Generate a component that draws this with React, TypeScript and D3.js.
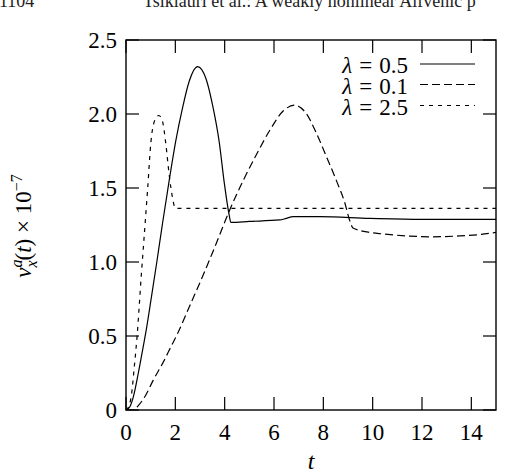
import React from "react";
import * as d3 from "d3";

// λ = 0.5 (solid)
const tA = [0, 0.15, 0.3, 0.5, 0.7, 0.84, 1.0, 1.24, 1.48, 1.75, 2.02, 2.29, 2.56, 2.9, 3.24, 3.51, 3.78, 3.98, 4.18, 4.25, 5.0, 6.23, 6.5, 6.77, 7.85, 9.88, 12.0, 15];
const vA = [0, 0.02, 0.09, 0.25, 0.43, 0.56, 0.73, 0.99, 1.26, 1.55, 1.82, 2.04, 2.22, 2.32, 2.24, 2.06, 1.81, 1.54, 1.32, 1.268, 1.274, 1.284, 1.295, 1.306, 1.306, 1.295, 1.288, 1.288];

// λ = 0.1 (long dash)
const tB = [0, 0.3, 0.5, 0.8, 1.1, 1.5, 1.8, 2.1, 2.6, 3.15, 3.67, 4.2, 4.75, 5.3, 5.83, 6.37, 6.84, 7.32, 7.72, 8.13, 8.53, 8.87, 9.07, 9.2, 9.88, 10.4, 11.5, 12.4, 13.5, 14.3, 15];
const vB = [0, 0, 0.03, 0.1, 0.2, 0.32, 0.42, 0.52, 0.71, 0.92, 1.13, 1.35, 1.55, 1.73, 1.89, 2.02, 2.06, 2.0, 1.87, 1.71, 1.55, 1.4, 1.28, 1.23, 1.2, 1.19, 1.175, 1.17, 1.176, 1.185, 1.2];

// λ = 2.5 (short dash)
const tC = [0, 0.1, 0.22, 0.33, 0.45, 0.62, 0.74, 0.88, 1.01, 1.15, 1.33, 1.48, 1.62, 1.75, 1.89, 2.0, 4.0, 8.0, 15];
const vC = [0, 0.02, 0.1, 0.28, 0.5, 0.91, 1.18, 1.5, 1.81, 1.95, 1.99, 1.95, 1.79, 1.59, 1.43, 1.363, 1.363, 1.363, 1.363];

const seriesLabels = ["0.5", "0.1", "2.5"];
const xTicks = [0, 2, 4, 6, 8, 10, 12, 14];
const xTickLabels = ["0", "2", "4", "6", "8", "10", "12", "14"];
const yTicks = [0, 0.5, 1.0, 1.5, 2.0, 2.5];
const yTickLabels = ["0", "0.5", "1.0", "1.5", "2.0", "2.5"];

const W = 514;
const H = 474;
const L = 126, R = 496, T = 40, B = 410;
const FONT = "'Liberation Serif', 'DejaVu Serif', serif";

export default function App() {
  const x = d3.scaleLinear().domain([0, 15]).range([L, R]);
  const y = d3.scaleLinear().domain([0, 2.5]).range([B, T]);
  const line = d3
    .line<[number, number]>()
    .x((d) => x(d[0]))
    .y((d) => y(d[1]))
    .curve(d3.curveMonotoneX);

  const series = [
    { t: tA, v: vA, dash: undefined as string | undefined },
    { t: tB, v: vB, dash: "8,4" },
    { t: tC, v: vC, dash: "4,5" },
  ];

  const tickLen = 13;
  const legendY = [64, 84.5, 105.5];
  const ts = { fontFamily: FONT };

  return (
    <svg
      width={W}
      height={H}
      viewBox={`0 0 ${W} ${H}`}
      style={{ position: "absolute", left: 0, top: 0, display: "block", background: "#fff", fontFamily: FONT }}
    >
      <rect x={0} y={0} width={W} height={H} fill="#fff" />
      {/* page header (cut) */}
      <text x={-1} y={7} fontSize={18} fill="#222" style={ts}>1104</text>
      <text x={143} y={7} fontSize={18} fill="#222" style={ts}>Tsiklauri et al.: A weakly nonlinear Alfvénic p</text>

      <defs>
        <clipPath id="plotclip">
          <rect x={L} y={T} width={R - L} height={B - T} />
        </clipPath>
      </defs>

      {/* ticks */}
      {xTicks.map((t, i) => (
        <g key={"xt" + i}>
          <line x1={x(t)} x2={x(t)} y1={B} y2={B - tickLen} stroke="#000" strokeWidth={1.2} />
          <line x1={x(t)} x2={x(t)} y1={T} y2={T + tickLen} stroke="#000" strokeWidth={1.2} />
          <text x={x(t)} y={440} fontSize={23} textAnchor="middle" fill="#000" style={ts}>
            {xTickLabels[i]}
          </text>
        </g>
      ))}
      {yTicks.map((v, i) => (
        <g key={"yt" + i}>
          <line x1={L} x2={L + tickLen} y1={y(v)} y2={y(v)} stroke="#000" strokeWidth={1.2} />
          <line x1={R} x2={R - tickLen} y1={y(v)} y2={y(v)} stroke="#000" strokeWidth={1.2} />
          <text x={117} y={y(v) + 7.5} fontSize={23} textAnchor="end" fill="#000" style={ts}>
            {yTickLabels[i]}
          </text>
        </g>
      ))}

      {/* curves */}
      <g clipPath="url(#plotclip)">
        {series.map((s, i) => (
          <path
            key={"s" + i}
            d={line(s.t.map((t, j) => [t, s.v[j]] as [number, number])) || ""}
            fill="none"
            stroke="#000"
            strokeWidth={1.2}
            strokeDasharray={s.dash}
          />
        ))}
      </g>

      {/* legend */}
      {seriesLabels.map((lab, i) => (
        <g key={"lg" + i}>
          <text x={408} y={legendY[i] + 9} fontSize={23} textAnchor="end" fill="#000" style={ts}>
            <tspan fontStyle="italic">λ</tspan>
            <tspan dx={7}>=</tspan>
            <tspan dx={7}>{lab}</tspan>
          </text>
          <line
            x1={420}
            x2={475}
            y1={legendY[i]}
            y2={legendY[i]}
            stroke="#000"
            strokeWidth={1.2}
            strokeDasharray={series[i].dash}
          />
        </g>
      ))}

      {/* frame */}
      <rect x={L} y={T} width={R - L} height={B - T} fill="none" stroke="#000" strokeWidth={1.4} />

      {/* axis labels */}
      <text x={311} y={469} fontSize={24} fontStyle="italic" textAnchor="middle" fill="#000" style={ts}>t</text>
      <text transform="translate(31,226) rotate(-90)" fontSize={23} textAnchor="middle" fill="#000" style={ts}>
        <tspan fontStyle="italic">v</tspan>
        <tspan fontStyle="italic" fontSize={16} dy={-9}>a</tspan>
        <tspan fontStyle="italic" fontSize={16} dx={-8} dy={15}>x</tspan>
        <tspan dy={-6}>(</tspan>
        <tspan fontStyle="italic">t</tspan>
        <tspan>) × 10</tspan>
        <tspan fontSize={16} dy={-9}>−7</tspan>
      </text>
    </svg>
  );
}
